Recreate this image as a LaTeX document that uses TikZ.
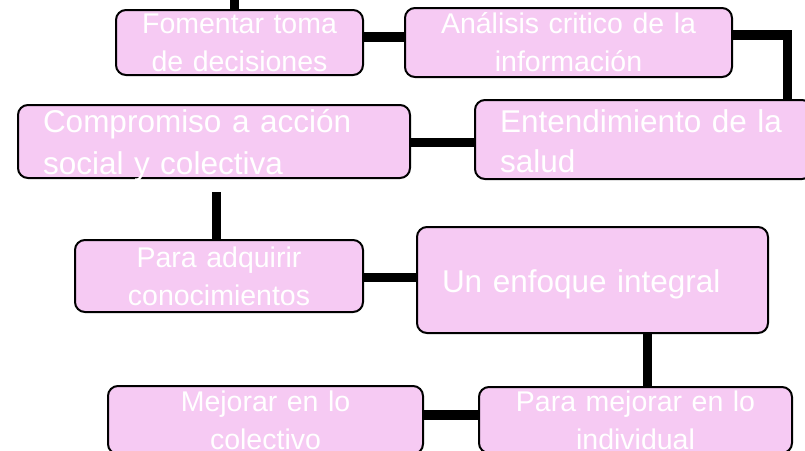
\documentclass[tikz,border=0pt]{standalone}
\usepackage{fontspec}
\setmainfont{Liberation Sans}
\usetikzlibrary{backgrounds}
\definecolor{boxpink}{HTML}{F6CAF3}
\tikzset{
  box/.style={draw=black, line width=2pt, fill=boxpink, rounded corners=10pt, inner sep=0pt, text=white},
  smallt/.style={font=\fontsize{28.5pt}{38pt}\selectfont},
  bigt/.style={font=\fontsize{31.5pt}{42pt}\selectfont},
  link/.style={line width=9.5pt, draw=black, line join=miter},
}
\begin{document}
\begin{tikzpicture}[x=1pt, y=-1pt]
\useasboundingbox (0,0) rectangle (805,450);
\clip (0,0) rectangle (805,450);

\node[box, smallt, minimum width=247pt, minimum height=65pt, text width=227pt, align=center] (A) at (239.5,42.5) {Fomentar toma\\de decisiones};
\node[box, smallt, minimum width=327pt, minimum height=69pt, text width=307pt, align=center] (B) at (568.5,42.5) {Análisis critico de la\\información};
\node[box, bigt, minimum width=392pt, minimum height=73pt, text width=342pt, align=left, text height=27pt, text depth=46pt] (C) at (214,141.5) {Compromiso a acción\\social y colectiva};
\node[box, bigt, font=\fontsize{31.5pt}{40pt}\selectfont, minimum width=337pt, minimum height=79pt, text width=287pt, align=left, text height=32pt, text depth=47pt] (D) at (643.5,139.5) {Entendimiento de la\\salud};
\node[box, smallt, minimum width=288pt, minimum height=72pt, text width=268pt, align=center] (E) at (219,276) {Para adquirir\\conocimientos};
\node[box, bigt, minimum width=351pt, minimum height=106pt, text width=301pt, align=left, text height=30pt, text depth=6pt] (F) at (592.5,280) {Un enfoque integral};
\node[box, smallt, minimum width=313pt, minimum height=66pt, text width=293pt, align=center] (G) at (635.5,420) {Para mejorar en lo\\individual};
\node[box, smallt, minimum width=315pt, minimum height=68pt, text width=295pt, align=center] (H) at (265.5,420) {Mejorar en lo\\colectivo};

\coordinate (topc) at (234.5,0);
\coordinate (ab) at (0,37);
\coordinate (bd) at (787.5,35);
\coordinate (cd) at (0,142.5);
\coordinate (ce) at (216.5,0);
\coordinate (ef) at (0,277.5);
\coordinate (fg) at (647.5,0);
\coordinate (hg) at (0,415);

\begin{pgfonlayer}{background}
\draw[link] (topc) -- (topc |- A.north);
\draw[link] (A.east |- ab) -- (B.west |- ab);
\draw[link] (B.east |- bd) -| (bd |- D.north);
\draw[link] (C.east |- cd) -- (D.west |- cd);
\draw[link, shorten <=13pt] (C.south -| ce) -- (E.north -| ce);
\draw[link] (E.east |- ef) -- (F.west |- ef);
\draw[link] (F.south -| fg) -- (G.north -| fg);
\draw[link] (H.east |- hg) -- (G.west |- hg);
\end{pgfonlayer}
\end{tikzpicture}
\end{document}
